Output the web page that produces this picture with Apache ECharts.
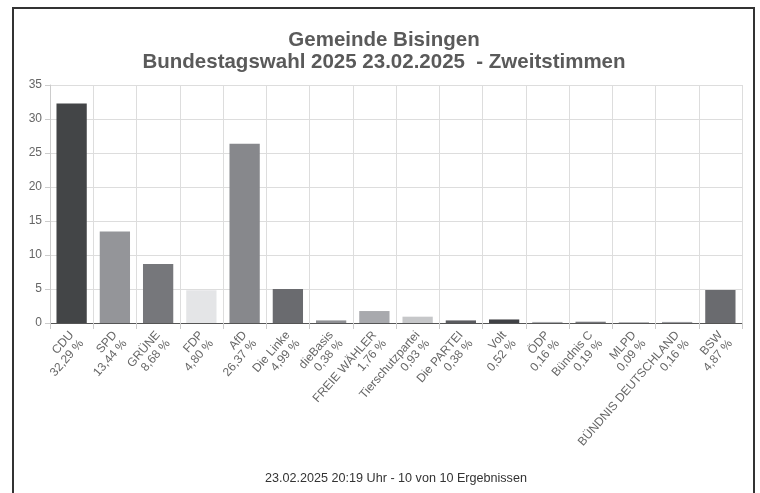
<!DOCTYPE html>
<html>
<head>
<meta charset="utf-8">
<script src="https://cdn.jsdelivr.net/npm/echarts@6/dist/echarts.min.js"></script>
<style>
html,body{margin:0;padding:0;background:#fff;}
#chart{width:760px;height:493px;}
</style>
</head>
<body>
<div id="chart"></div>
<script>
const titleLines = ['Gemeinde Bisingen', 'Bundestagswahl 2025 23.02.2025  - Zweitstimmen'];
const footerText = '23.02.2025 20:19 Uhr - 10 von 10 Ergebnissen';
const parties = ['CDU','SPD','GRÜNE','FDP','AfD','Die Linke','dieBasis','FREIE WÄHLER','Tierschutzpartei','Die PARTEI','Volt','ÖDP','Bündnis C','MLPD','BÜNDNIS DEUTSCHLAND','BSW'];
const shares = [32.29,13.44,8.68,4.80,26.37,4.99,0.38,1.76,0.93,0.38,0.52,0.16,0.19,0.09,0.16,4.87];
const barColors = ['#434547','#949599','#76777b','#e4e5e7','#87888c','#6a6b6f','#8e8f93','#a8a9ad','#c6c7c9','#5a5b5f','#404145','#a9aaad','#76777b','#8a8b8f','#9a9b9f','#6a6b6f'];
const yTicks = [0,5,10,15,20,25,30,35];

const fmt = v => v.toFixed(2).replace('.', ',') + ' %';
const labelMap = {};
// leading empty line keeps the party name centred on the label anchor
parties.forEach((p, i) => { labelMap[p] = '\n' + p + '\n' + fmt(shares[i]); });

const FONT = 'Liberation Sans, Arial, sans-serif';
const chart = echarts.init(document.getElementById('chart'), null, {renderer: 'canvas'});
chart.setOption({
  animation: false,
  backgroundColor: '#fff',
  textStyle: {fontFamily: FONT},
  graphic: [{
    type: 'rect',
    shape: {x: 13, y: 8, width: 741, height: 520},
    style: {fill: 'none', stroke: '#333', lineWidth: 2},
    silent: true
  }, {
    type: 'text',
    x: 384, y: 40,
    style: {text: titleLines[0], font: 'bold 20.5px ' + FONT, fill: '#5a5a5a', textAlign: 'center', textVerticalAlign: 'middle'},
    silent: true
  }, {
    type: 'text',
    x: 384, y: 62,
    style: {text: titleLines[1], font: 'bold 20.5px ' + FONT, fill: '#5a5a5a', textAlign: 'center', textVerticalAlign: 'middle'},
    silent: true
  }, {
    type: 'text',
    x: 396, y: 479,
    style: {text: footerText, font: '12.6px ' + FONT, fill: '#333', textAlign: 'center', textVerticalAlign: 'middle'},
    silent: true
  }],
  grid: {left: 50, right: 18, top: 85, bottom: 170, containLabel: false},
  xAxis: {
    type: 'category',
    data: parties,
    axisLine: {lineStyle: {color: '#555', width: 1}},
    axisTick: {show: true, length: 6, lineStyle: {color: '#ccc'}},
    splitLine: {show: true, lineStyle: {color: '#ddd'}},
    axisLabel: {
      interval: 0,
      rotate: 49,
      margin: 10,
      verticalAlign: 'middle',
      color: '#666',
      fontSize: 12,
      lineHeight: 13,
      formatter: v => labelMap[v]
    }
  },
  yAxis: {
    type: 'value',
    min: yTicks[0],
    max: yTicks[yTicks.length - 1],
    interval: 5,
    axisLine: {show: true, lineStyle: {color: '#ccc'}},
    axisTick: {show: true, length: 5, lineStyle: {color: '#ccc'}},
    splitLine: {show: true, lineStyle: {color: '#ddd'}},
    axisLabel: {color: '#666', fontSize: 12, margin: 8}
  },
  series: [{
    type: 'bar',
    data: shares.map((v, i) => ({value: v, itemStyle: {color: barColors[i]}})),
    barCategoryGap: '30%',
    silent: true
  }]
});
</script>
</body>
</html>
